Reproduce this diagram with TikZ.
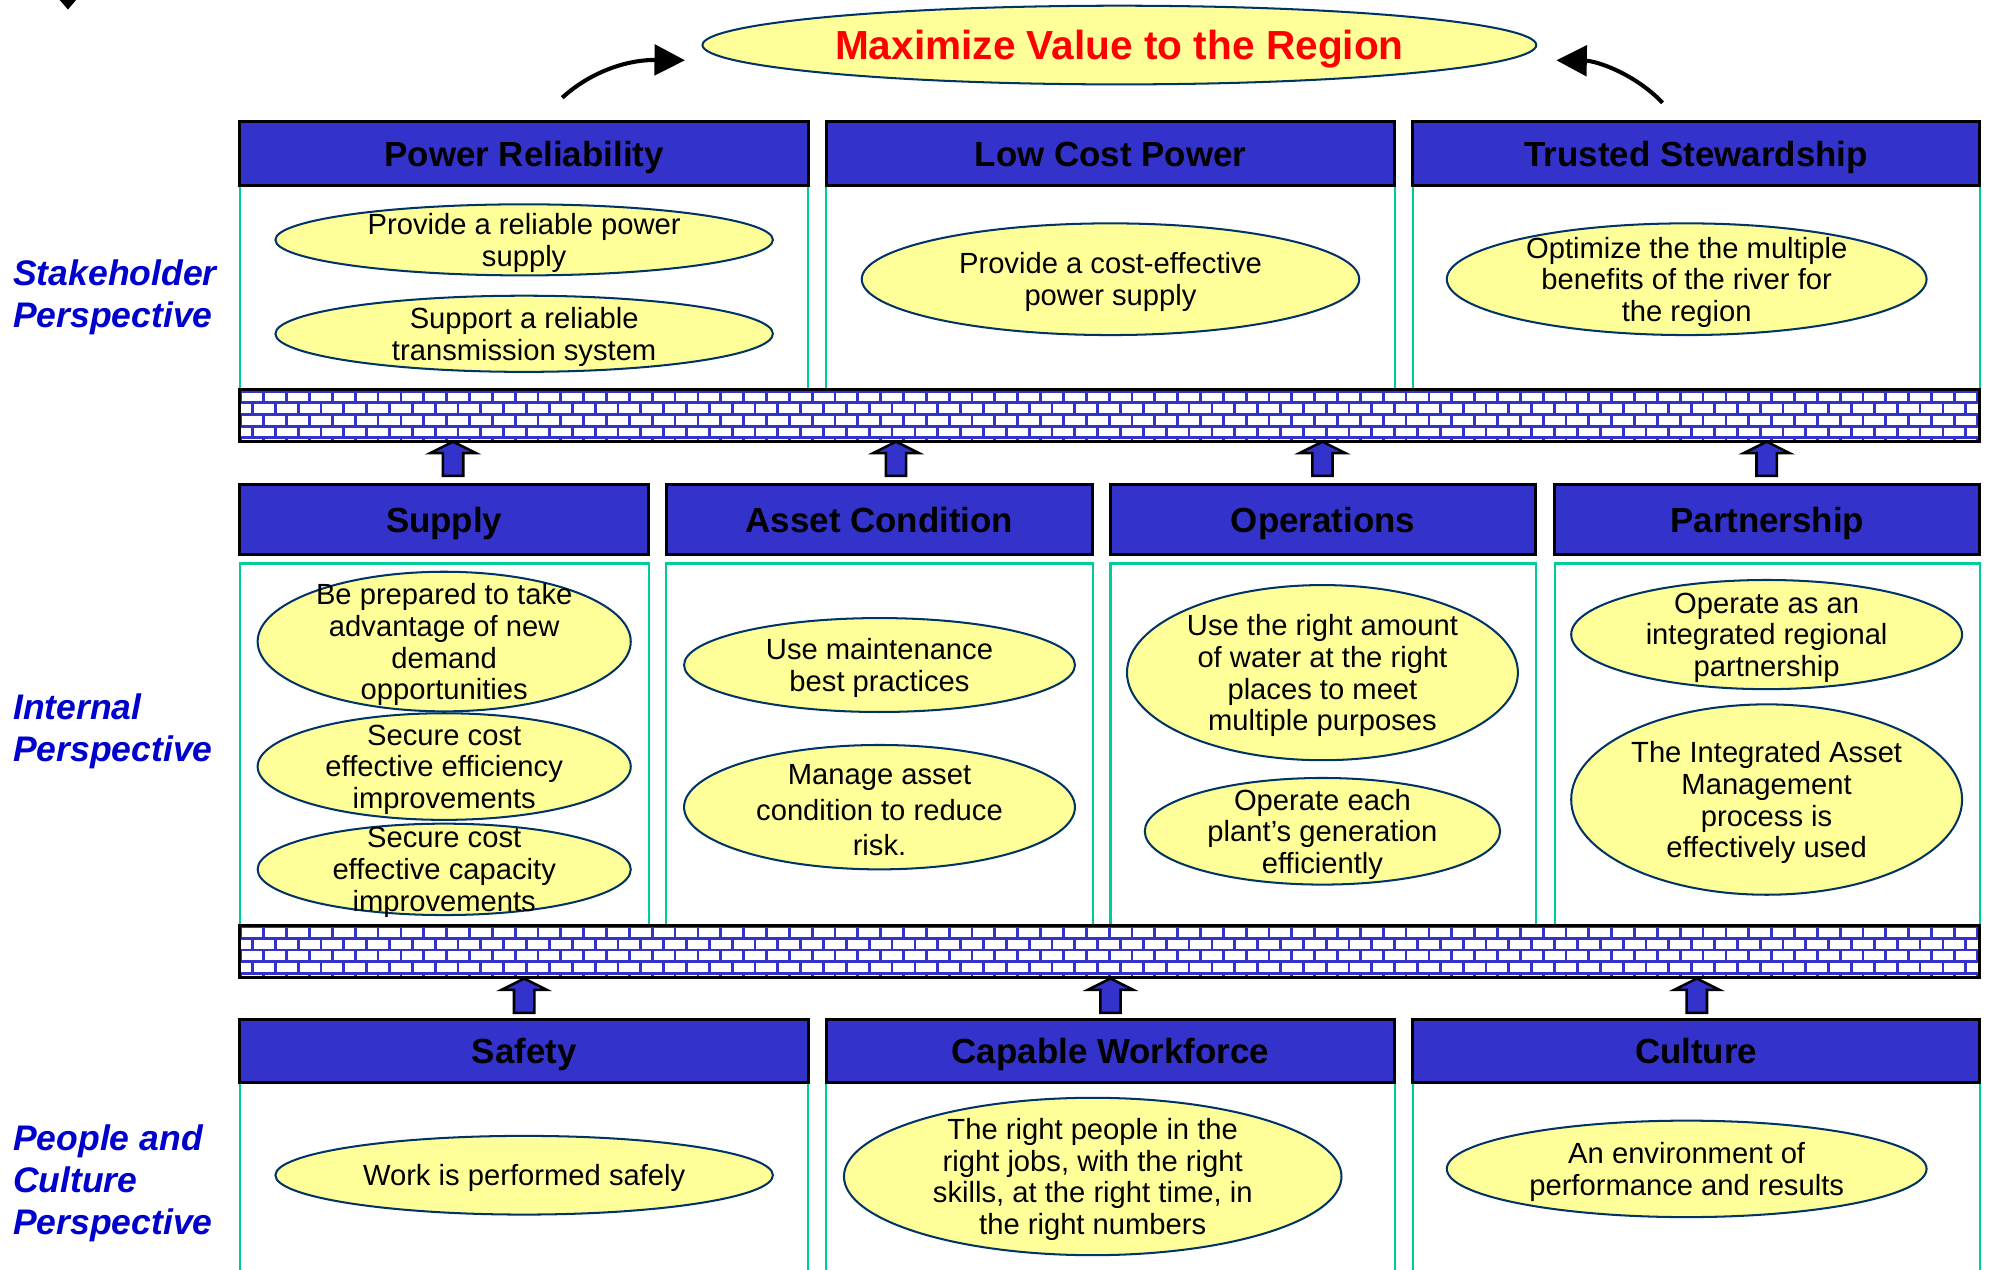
\documentclass[tikz,border=0pt]{standalone}
\usepackage{fontspec}
\setmainfont{Liberation Sans}
\usetikzlibrary{arrows.meta, shapes.geometric}

\definecolor{hdrblue}{HTML}{3333CC}
\definecolor{goalfill}{HTML}{FFFF99}
\definecolor{goalline}{HTML}{003366}
\definecolor{panelteal}{HTML}{00CC99}
\definecolor{viewblue}{HTML}{0000CC}
\definecolor{titlered}{HTML}{FF0000}

\begin{document}
\begin{tikzpicture}[x=0.5pt, y=-0.5pt, >=Stealth,
    hdr/.style={draw, line width=1.2pt, fill=hdrblue, inner sep=0pt, text height=10pt, text depth=0pt, font=\fontsize{13.75}{16}\selectfont\bfseries},
    goal/.style={draw=goalline, line width=0.8pt, fill=goalfill, ellipse, inner sep=0pt},
    goaltext/.style={align=center, inner sep=0pt, yshift=-1.2pt, font=\fontsize{11.5}{12.5}\selectfont},
    panel/.style={draw=panelteal, line width=0.8pt},
    view/.style={anchor=west, align=left, inner sep=0pt, text=viewblue, font=\fontsize{14}{16.5}\selectfont\bfseries\itshape},
    blockup/.style={draw, line width=1pt, fill=hdrblue, line join=miter}]
  \useasboundingbox (0,0) rectangle (1568,1000);

  % Fragment of an arrow at the top edge
  \fill (47,0) -- (60,0) -- (53.5,7.5) -- cycle;

  % Top goal
  \node[goal, minimum width=328.5pt, minimum height=31pt, text=titlered, text height=11.5pt, text depth=0pt, font=\fontsize{16}{19}\selectfont\bfseries] (region) at (882,35.5) {Maximize Value to the Region};
  \coordinate (reliab-arc) at (443,77);
  \coordinate (steward-arc) at (1310,81);
  \draw[line width=1.6pt, -{Triangle[length=12pt,width=12pt]}] (reliab-arc) .. controls (466,56) and (495,47) .. ([shift={(-13,12)}]region.west);
  \draw[line width=1.6pt, -{Triangle[length=12pt,width=12pt]}] (steward-arc) .. controls (1288,58) and (1258,48) .. ([shift={(15,12)}]region.east);

  % Perspectives
  \node[view] (stakeholder) at (10,234) {Stakeholder\\Perspective};
  \node[view] (internal) at (10,576) {Internal\\Perspective};
  \node[view] (people) at (10,932.5) {People and\\Culture\\Perspective};

  % Panels
  \draw[panel] (189,146) rectangle (637,307);
  \draw[panel] (651,146) rectangle (1099,307);
  \draw[panel] (1113,146) rectangle (1560,307);
  \draw[panel] (189,444) rectangle (511,729);
  \draw[panel] (525,444) rectangle (861,729);
  \draw[panel] (875,444) rectangle (1210,729);
  \draw[panel] (1225,444) rectangle (1560,729);
  \draw[panel] (189,1010) -- (189,853) -- (637,853) -- (637,1010);
  \draw[panel] (651,1010) -- (651,853) -- (1099,853) -- (1099,1010);
  \draw[panel] (1113,1010) -- (1113,853) -- (1560,853) -- (1560,1010);

  % Stakeholder row
  \node[hdr, minimum width=224pt, minimum height=25pt] (reliability) at (413,121) {Power Reliability};
  \node[hdr, minimum width=224pt, minimum height=25pt] (lowcost) at (875,121) {Low Cost Power};
  \node[hdr, minimum width=223.5pt, minimum height=25pt] (stewardship) at (1336.5,121) {Trusted Stewardship};

  \node[goal, minimum width=196pt, minimum height=28pt] (supplygoal) at (413,189) {};
  \node[goaltext] (supplygoal-t) at (supplygoal) {Provide a reliable power\\supply};
  \node[goal, minimum width=196pt, minimum height=30pt] (transgoal) at (413,263) {};
  \node[goaltext] (transgoal-t) at (transgoal) {Support a reliable\\transmission system};
  \node[goal, minimum width=196pt, minimum height=44pt] (costgoal) at (875,220) {};
  \node[goaltext] (costgoal-t) at (costgoal) {Provide a cost-effective\\power supply};
  \node[goal, minimum width=189pt, minimum height=44pt] (rivergoal) at (1329,220) {};
  \node[goaltext] (rivergoal-t) at (rivergoal) {Optimize the the multiple\\benefits of the river for\\the region};

  % Internal row
  \node[hdr, minimum width=161pt, minimum height=27.5pt] (supply) at (350,409.5) {Supply};
  \node[hdr, minimum width=168pt, minimum height=27.5pt] (asset) at (693,409.5) {Asset Condition};
  \node[hdr, minimum width=167.5pt, minimum height=27.5pt] (operations) at (1042.5,409.5) {Operations};
  \node[hdr, minimum width=167.5pt, minimum height=27.5pt] (partnership) at (1392.5,409.5) {Partnership};

  \node[goal, minimum width=147pt, minimum height=55pt] (demand) at (350,505.5) {};
  \node[goaltext] (demand-t) at (demand) {Be prepared to take\\advantage of new\\demand\\opportunities};
  \node[goal, minimum width=147pt, minimum height=42pt] (efficiency) at (350,604) {};
  \node[goaltext] (efficiency-t) at (efficiency) {Secure cost\\effective efficiency\\improvements};
  \node[goal, minimum width=147pt, minimum height=36pt] (capacity) at (350,685) {};
  \node[goaltext] (capacity-t) at (capacity) {Secure cost\\effective capacity\\improvements};

  \node[goal, minimum width=154pt, minimum height=37pt] (maint) at (693,524) {};
  \node[goaltext] (maint-t) at (maint) {Use maintenance\\best practices};
  \node[goal, minimum width=154pt, minimum height=49pt] (risk) at (693,636) {};
  \node[goaltext, font=\fontsize{11.5}{14}\selectfont] (risk-t) at (risk) {Manage asset\\condition to reduce\\risk.};

  \node[goal, minimum width=154pt, minimum height=69pt] (water) at (1042,530) {};
  \node[goaltext] (water-t) at (water) {Use the right amount\\of water at the right\\places to meet\\multiple purposes};
  \node[goal, minimum width=140pt, minimum height=42pt] (plant) at (1042,655) {};
  \node[goaltext] (plant-t) at (plant) {Operate each\\plant’s generation\\efficiently};

  \node[goal, minimum width=154pt, minimum height=43pt] (regional) at (1392,500) {};
  \node[goaltext] (regional-t) at (regional) {Operate as an\\integrated regional\\partnership};
  \node[goal, minimum width=154pt, minimum height=75pt] (iam) at (1392,630) {};
  \node[goaltext] (iam-t) at (iam) {The Integrated Asset\\Management\\process is\\effectively used};

  % People and culture row
  \node[hdr, minimum width=224pt, minimum height=25pt] (safety) at (413,828) {Safety};
  \node[hdr, minimum width=224pt, minimum height=25pt] (workforce) at (875,828) {Capable Workforce};
  \node[hdr, minimum width=223.5pt, minimum height=25pt] (culture) at (1336.5,828) {Culture};

  \node[goal, minimum width=196pt, minimum height=31pt] (safely) at (413,926) {};
  \node[goaltext] (safely-t) at (safely) {Work is performed safely};
  \node[goal, minimum width=196pt, minimum height=62pt] (rightpeople) at (861,927) {};
  \node[goaltext] (rightpeople-t) at (rightpeople) {The right people in the\\right jobs, with the right\\skills, at the right time, in\\the right numbers};
  \node[goal, minimum width=189pt, minimum height=38pt] (results) at (1329,921) {};
  \node[goaltext] (results-t) at (results) {An environment of\\performance and results};

  % Brick walls
  \foreach \wy in {307,729} {
    \begin{scope}
      \clip (189,\wy) rectangle (1560,\wy+41);
      \fill[hdrblue] (189,\wy) rectangle (1560,\wy+41);
      \foreach \r in {0,...,4} {
        \foreach \c in {-1,...,76} {
          \fill[white] ({191+9*mod(\r,2)+18*\c},{\wy+2.3+9.2*\r}) rectangle ++(15.8,7);
        }
      }
    \end{scope}
    \draw[line width=1.2pt] (189,\wy) rectangle (1560,\wy+41);
  }

  % Block arrows
  \foreach \ax/\ay in {357/348, 706/348, 1042/348, 1392/348, 413/771, 875/771, 1337/771}
    \draw[blockup] (\ax,\ay) -- ++(18,9) -- ++(-10,0) -- ++(0,18) -- ++(-16,0) -- ++(0,-18) -- ++(-10,0) -- cycle;
\end{tikzpicture}
\end{document}
